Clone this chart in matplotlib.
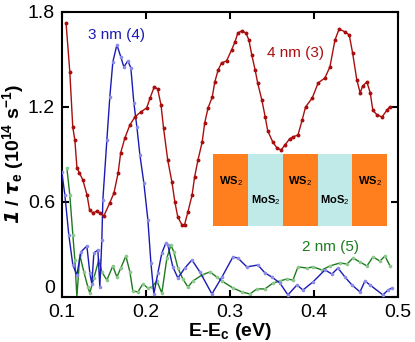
import matplotlib
matplotlib.use('Agg')
import matplotlib.pyplot as plt
from matplotlib.patches import Rectangle

plt.rcParams['font.family'] = ['Liberation Sans', 'DejaVu Sans']
plt.rcParams['mathtext.fontset'] = 'custom'
plt.rcParams['mathtext.rm'] = 'Liberation Sans'
plt.rcParams['mathtext.it'] = 'Liberation Sans:italic'
plt.rcParams['mathtext.bf'] = 'Liberation Sans:bold'

# 4 nm (3) -- red
x_4nm = [0.105, 0.1095, 0.113, 0.1155, 0.118, 0.121, 0.125, 0.130, 0.133, 0.137,
         0.142, 0.145, 0.150, 0.157, 0.162, 0.167, 0.170, 0.175, 0.181, 0.187,
         0.194, 0.201, 0.205, 0.210, 0.214, 0.218, 0.221, 0.226, 0.231, 0.2345,
         0.238, 0.243, 0.246, 0.250, 0.255, 0.258, 0.262, 0.267, 0.270, 0.274,
         0.279, 0.282, 0.286, 0.290, 0.296, 0.302, 0.306, 0.3095, 0.314, 0.319,
         0.3226, 0.326, 0.330, 0.333, 0.338, 0.342, 0.345, 0.351, 0.356, 0.361,
         0.3655, 0.371, 0.375, 0.381, 0.386, 0.390, 0.398, 0.405, 0.413, 0.419,
         0.425, 0.430, 0.437, 0.442, 0.446, 0.451, 0.455, 0.458, 0.463, 0.467,
         0.470, 0.475, 0.481, 0.487, 0.490]
y_4nm = [1.731, 1.421, 1.074, 0.99, 0.815, 0.783, 0.739, 0.644, 0.550, 0.531,
         0.543, 0.531, 0.512, 0.594, 0.657, 0.783, 0.910, 1.004, 1.087, 1.137,
         1.169, 1.194, 1.257, 1.327, 1.314, 1.213, 1.068, 0.865, 0.726, 0.600,
         0.505, 0.455, 0.455, 0.537, 0.644, 0.758, 0.865, 0.979, 1.099, 1.194,
         1.263, 1.358, 1.434, 1.478, 1.491, 1.560, 1.611, 1.668, 1.680, 1.668,
         1.623, 1.529, 1.434, 1.352, 1.244, 1.137, 1.049, 0.979, 0.941, 0.929,
         0.960, 0.998, 1.011, 1.023, 1.118, 1.200, 1.257, 1.352, 1.383, 1.453,
         1.623, 1.693, 1.674, 1.655, 1.541, 1.371, 1.289, 1.333, 1.358, 1.289,
         1.181, 1.150, 1.137, 1.181, 1.200]

# 3 nm (4) -- blue
x_3nm = [0.100, 0.1036, 0.1083, 0.1131, 0.1179, 0.1226, 0.1298, 0.1333, 0.1357, 0.1381,
         0.1429, 0.1452, 0.1476, 0.1488, 0.1536, 0.1571, 0.1607, 0.1655, 0.1702, 0.1738,
         0.1786, 0.1821, 0.1857, 0.1893, 0.1929, 0.1976, 0.2024, 0.2060, 0.2095, 0.2143,
         0.2190, 0.2238, 0.2262, 0.2321, 0.2381, 0.2464, 0.2548, 0.2643, 0.2786, 0.2905,
         0.3036, 0.3095, 0.3202, 0.3333, 0.3417, 0.3500, 0.3595, 0.3690, 0.3798, 0.3869,
         0.3988, 0.4131, 0.4214, 0.4286, 0.4369, 0.4452, 0.4548, 0.4607, 0.4667, 0.4821,
         0.4881, 0.4929]
y_3nm = [0.790, 0.644, 0.392, 0.202, 0.139, 0.284, 0.322, 0.152, 0.082, 0.278,
         0.297, 0.063, 0.360, 0.613, 0.992, 1.263, 1.485, 1.592, 1.516, 1.453,
         1.491, 1.447, 1.226, 1.074, 0.897, 0.720, 0.486, 0.215, 0.019, 0.152,
         0.278, 0.341, 0.328, 0.190, 0.120, 0.183, 0.234, 0.158, 0.019, 0.126,
         0.253, 0.246, 0.190, 0.202, 0.152, 0.126, 0.088, 0.013, 0.076, 0.044,
         0.095, 0.171, 0.145, 0.183, 0.126, 0.076, 0.032, 0.101, 0.076, 0.013,
         0.044, 0.057]

# 2 nm (5) -- green
x_2nm = [0.1060, 0.1095, 0.1131, 0.1155, 0.1179, 0.1214, 0.1262, 0.1310, 0.1333, 0.1381,
         0.1440, 0.1476, 0.1536, 0.1607, 0.1655, 0.1702, 0.1762, 0.1810, 0.1845, 0.1905,
         0.1964, 0.2024, 0.2071, 0.2131, 0.2190, 0.2250, 0.2298, 0.2333, 0.2381, 0.2440,
         0.2500, 0.2560, 0.2667, 0.2762, 0.2845, 0.2905, 0.3036, 0.3143, 0.3238, 0.3321,
         0.3417, 0.3512, 0.3595, 0.3679, 0.3750, 0.3810, 0.3917, 0.3988, 0.4095, 0.4190,
         0.4310, 0.4393, 0.4464, 0.4548, 0.4631, 0.4702, 0.4786, 0.4845, 0.4905]
y_2nm = [0.815, 0.644, 0.392, 0.234, 0.000, 0.265, 0.158, 0.063, 0.025, 0.120,
         0.234, 0.158, 0.107, 0.196, 0.126, 0.183, 0.259, 0.158, 0.038, 0.032,
         0.082, 0.057, 0.063, 0.101, 0.025, 0.246, 0.328, 0.284, 0.183, 0.114,
         0.063, 0.101, 0.139, 0.158, 0.126, 0.101, 0.057, 0.032, 0.019, 0.051,
         0.051, 0.088, 0.101, 0.114, 0.107, 0.190, 0.183, 0.190, 0.171, 0.196,
         0.215, 0.208, 0.246, 0.221, 0.196, 0.253, 0.227, 0.259, 0.196]

# inset layer stack
layers = ['WS$_2$', 'MoS$_2$', 'WS$_2$', 'MoS$_2$', 'WS$_2$']
layer_colors = ['#FF7F1E', '#BFEAE8', '#FF7F1E', '#BFEAE8', '#FF7F1E']

red = '#A80E0E'
blue = '#1A1AB4'
green = '#1E7A1E'

fig = plt.figure(figsize=(4.15, 3.42), dpi=100)
ax = fig.add_axes([0.149, 0.1316, 0.810, 0.8334])

ax.plot(x_2nm, y_2nm, color=green, lw=1.0, marker='o', ms=1.6,
        mfc='#8CC88C', mec='#8CC88C', zorder=2)
ax.plot(x_3nm, y_3nm, color=blue, lw=1.0, marker='o', ms=1.6,
        mfc='#8C8CE6', mec='#8C8CE6', zorder=3)
ax.plot(x_4nm, y_4nm, color=red, lw=1.0, marker='o', ms=1.8,
        mfc=red, mec=red, zorder=4)

ax.text(0.1655, 1.655, '3 nm (4)', color=blue, fontsize=11, ha='center', va='center')
ax.text(0.378, 1.541, '4 nm (3)', color=red, fontsize=11, ha='center', va='center')
ax.text(0.420, 0.316, '2 nm (5)', color=green, fontsize=11, ha='center', va='center')

# inset drawing of the superlattice (axes coords)
x0, w, yb, h = 0.451, 0.1034, 0.2475, 0.2556
for i, (lab, c) in enumerate(zip(layers, layer_colors)):
    ax.add_patch(Rectangle((x0 + i * w, yb), w, h, transform=ax.transAxes,
                           facecolor=c, edgecolor='none', zorder=5))
    ty = yb + h * 0.62 if i % 2 == 0 else yb + h * 0.36
    ax.text(x0 + (i + 0.5) * w, ty, lab, transform=ax.transAxes, fontsize=8,
            fontweight='bold', ha='center', va='center', zorder=6)

ax.set_xlim(0.1, 0.5)
ax.set_ylim(0, 1.8)
ax.set_xticks([0.1, 0.2, 0.3, 0.4, 0.5])
ax.set_xticklabels(['0.1', '0.2', '0.3', '0.4', '0.5'])
ax.set_yticks([0, 0.6, 1.2, 1.8])
ax.set_yticklabels(['0', '0.6', '1.2', '1.8'])
ax.tick_params(direction='in', top=True, right=True, length=5, width=1.5,
               labelsize=14)
ax.tick_params(axis='x', pad=5)
ax.tick_params(axis='y', pad=5)
# the "0" sits just above the corner in the original
ax.get_yticklabels()[0].set_verticalalignment('bottom')
for s in ax.spines.values():
    s.set_linewidth(1.5)

ax.set_xlabel(r'E-E$_\mathbf{c}$ (eV)', fontsize=14, fontweight='bold', labelpad=0)
ax.set_ylabel(r'$\mathbfit{1}$ / $\mathbfit{\tau}_\mathbf{e}$ (10$^\mathbf{14}$ s$^\mathbf{-1}$)',
              fontsize=14, fontweight='bold', labelpad=1)

fig.savefig('out.png', dpi=100)
